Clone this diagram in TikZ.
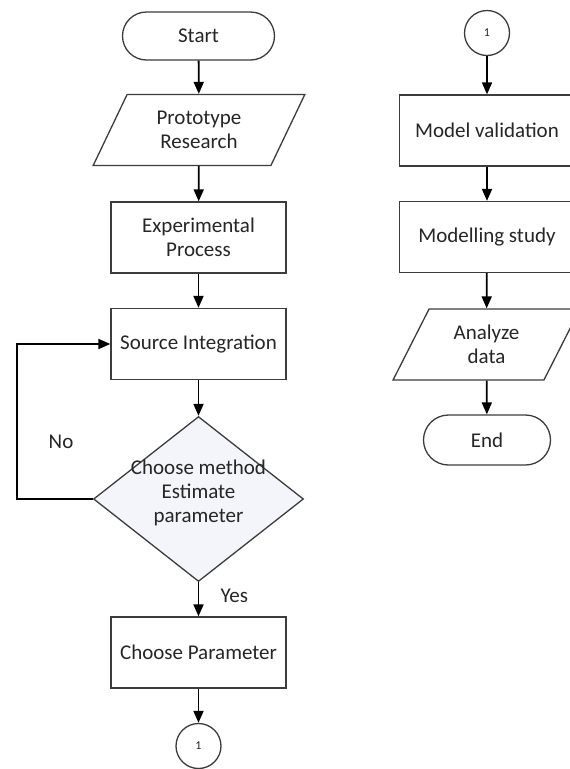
\documentclass[tikz,border=0pt]{standalone}
\usepackage{fontspec}
\setmainfont{Carlito}
\usepackage{xcolor}
\usetikzlibrary{arrows.meta,shapes.geometric}
\definecolor{decfill}{RGB}{244,245,250}
\definecolor{inkgray}{RGB}{60,60,60}
\tikzset{
  terminal/.style = {draw=inkgray, line width=1.3pt, rounded corners=24pt,
    minimum width=152pt, minimum height=48pt, inner sep=0pt},
  process/.style = {draw=inkgray, line width=1.3pt, minimum width=175pt,
    minimum height=71pt, align=center, inner sep=0pt},
  io/.style = {draw=inkgray, line width=1.3pt, trapezium, trapezium left angle=62,
    trapezium right angle=118, trapezium stretches, minimum width=212pt,
    minimum height=71pt, align=center, inner sep=0pt},
  decision/.style = {draw=inkgray, line width=1.3pt, diamond, fill=decfill,
    inner sep=0pt, minimum width=210pt, minimum height=165pt},
  connector/.style = {draw=inkgray, line width=1.3pt, circle, minimum size=45pt,
    inner sep=0pt, font=\fontsize{12}{14}\selectfont},
  flow/.style = {-{Triangle[width=10pt,length=12pt]}, line width=1.8pt}
}

\begin{document}
\begin{tikzpicture}[x=1pt, y=-1pt, font=\fontsize{21}{24}\selectfont, text=black!85]
  \useasboundingbox[fill=white] (0,0) rectangle (570,769);

  % left column
  \node[terminal] (start) at (198.5,36) {Start};
  \node[io] (proto) at (199,130) {Prototype\\Research};
  \node[process] (exper) at (198.5,237.5) {Experimental\\Process};
  \node[process] (source) at (198.5,344) {Source Integration};
  \node[decision] (choose) at (198.5,499) {\makebox[0pt]{\smash{\begin{tabular}{c}Choose method\\Estimate\\parameter\end{tabular}}}};
  \node[process] (param) at (198.5,652.5) {Choose Parameter};
  \node[connector] (conA) at (198.5,746) {1};
  \coordinate (loop) at (17,499);
  \node (nolabel) at (61,442) {No};

  % right column
  \node[connector] (conB) at (487,33) {1};
  \node[process] (valid) at (487,130.5) {Model validation};
  \node[process] (study) at (487,237) {Modelling study};
  \node[io, minimum width=187pt] (analyze) at (486.5,344.5) {Analyze\\data};
  \node[terminal, minimum width=127pt, minimum height=50pt, rounded corners=25pt] (theend) at (487,440) {End};

  \draw[flow] (start) -- (proto);
  \draw[flow] (proto) -- (exper);
  \draw[flow] (exper) -- (source);
  \draw[flow] (source) -- (choose.north);
  \draw[flow] (choose.south) -- node[pos=0.4, anchor=west, xshift=18pt] (yeslabel) {Yes} (param.north);
  \draw[flow] (param) -- (conA);
  \draw[flow] (choose.west) -- (loop) |- (source.west);

  \draw[flow] (conB) -- (valid);
  \draw[flow] (valid) -- (study);
  \draw[flow] (study) -- (analyze);
  \draw[flow] (analyze) -- (theend);
\end{tikzpicture}
\end{document}
